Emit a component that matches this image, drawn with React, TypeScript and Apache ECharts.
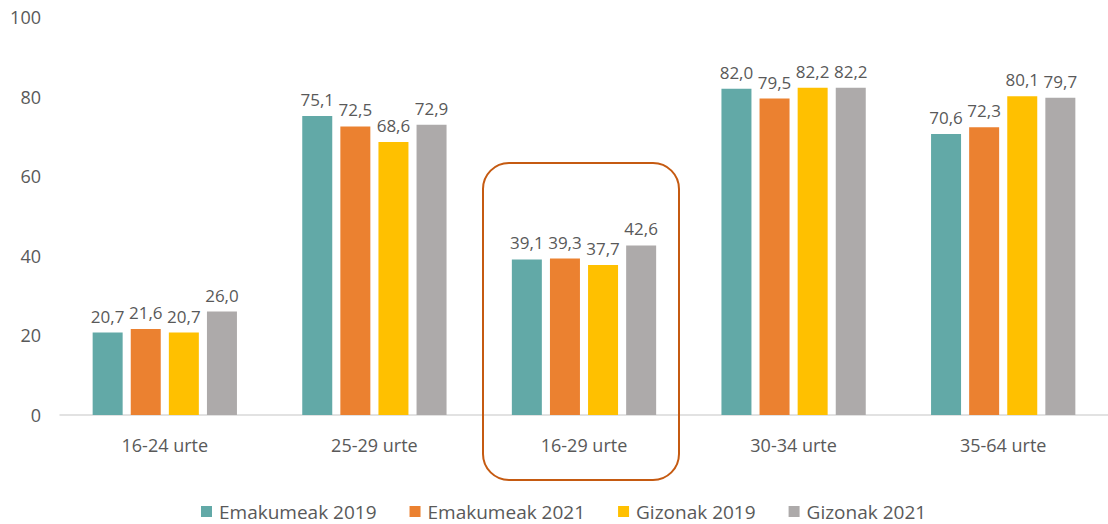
import React, { useEffect, useRef } from "react";
import * as echarts from "echarts";

const categories = ["16-24 urte", "25-29 urte", "16-29 urte", "30-34 urte", "35-64 urte"];
const seriesNames = ["Emakumeak 2019", "Emakumeak 2021", "Gizonak 2019", "Gizonak 2021"];
const emakumeak2019 = [20.7, 75.1, 39.1, 82.0, 70.6];
const emakumeak2021 = [21.6, 72.5, 39.3, 79.5, 72.3];
const gizonak2019 = [20.7, 68.6, 37.7, 82.2, 80.1];
const gizonak2021 = [26.0, 72.9, 42.6, 82.2, 79.7];
const yTicks = { min: 0, max: 100, interval: 20 };

const colors = ["#62A9A7", "#EB8130", "#FFC000", "#ADAAAA"];
const FONT = "'Open Sans', 'Noto Sans', sans-serif";

export default function App() {
  const ref = useRef<HTMLDivElement>(null);
  useEffect(() => {
    if (!ref.current) return;
    const chart = echarts.init(ref.current, null, { renderer: "svg" });
    const data = [emakumeak2019, emakumeak2021, gizonak2019, gizonak2021];
    chart.setOption({
      animation: false,
      textStyle: { fontFamily: FONT },
      grid: { left: 60, right: 0, top: 17, bottom: 109, containLabel: false },
      legend: {
        top: 497,
        left: 196,
        itemWidth: 11,
        itemHeight: 11,
        itemGap: 33,
        icon: "rect",
        textStyle: { color: "#595959", fontSize: 19, fontFamily: FONT, padding: [0, 0, 0, 2] },
        data: seriesNames,
      },
      xAxis: {
        type: "category",
        data: categories,
        axisLine: { lineStyle: { color: "#D9D9D9", width: 1.5 } },
        axisTick: { show: false },
        axisLabel: { color: "#595959", fontSize: 18, margin: 21, fontFamily: FONT },
      },
      yAxis: {
        type: "value",
        min: yTicks.min,
        max: yTicks.max,
        interval: yTicks.interval,
        splitLine: { show: false },
        axisLine: { show: false },
        axisTick: { show: false },
        axisLabel: { color: "#595959", fontSize: 18, margin: 19, fontFamily: FONT },
      },
      series: seriesNames.map((name, i) => ({
        name,
        type: "bar",
        data: data[i],
        barWidth: 30,
        barGap: "27%",
        itemStyle: { color: colors[i] },
        label: {
          show: true,
          position: "top",
          distance: 8,
          color: "#595959",
          fontSize: 17,
          fontFamily: FONT,
          formatter: (p: any) => Number(p.value).toFixed(1).replace(".", ","),
        },
      })),
      graphic: [
        {
          type: "rect",
          shape: { x: 483, y: 163, width: 196, height: 317, r: 26 },
          style: { fill: "none", stroke: "#C55A11", lineWidth: 2 },
          z: 100,
        },
      ],
    });
    return () => chart.dispose();
  }, []);
  return <div ref={ref} style={{ width: 1108, height: 524, position: "absolute", left: 0, top: 0 }} />;
}
